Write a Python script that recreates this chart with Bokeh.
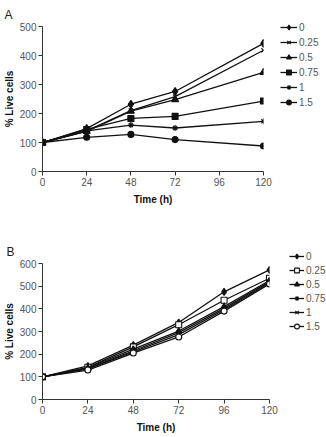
from bokeh.plotting import figure
from bokeh.layouts import column
from bokeh.models import Legend, LegendItem, FixedTicker
from bokeh.embed import file_html
from bokeh.resources import INLINE

# Time points (h)
time_a = [0, 24, 48, 72, 120]
time_b = [0, 24, 48, 72, 96, 120]

# Panel A: % live cells per concentration
conc_labels = ["0", "0.25", "0.5", "0.75", "1", "1.5"]
a_0 = [100, 148, 232, 276, 442]
a_025 = [100, 140, 210, 258, 418]
a_05 = [100, 138, 208, 248, 342]
a_075 = [100, 145, 183, 190, 243]
a_1 = [100, 140, 160, 150, 173]
a_15 = [100, 118, 128, 110, 88]

# Panel B: % live cells per concentration
b_0 = [100, 148, 240, 340, 475, 572]
b_025 = [100, 142, 232, 330, 438, 535]
b_05 = [100, 140, 222, 302, 410, 525]
b_075 = [100, 136, 215, 295, 402, 520]
b_1 = [100, 135, 210, 286, 396, 515]
b_15 = [100, 130, 205, 276, 390, 510]

x_ticks = [0, 24, 48, 72, 96, 120]
a_y_ticks = [0, 100, 200, 300, 400, 500]
b_y_ticks = [0, 100, 200, 300, 400, 500, 600]

FONT = "Liberation Sans"
TICK_COLOR = "#555555"


def style_axes(p, yticks):
    p.xaxis.ticker = FixedTicker(ticks=x_ticks)
    p.yaxis.ticker = FixedTicker(ticks=yticks)
    for ax in (p.xaxis[0], p.yaxis[0]):
        ax.axis_line_color = "#333333"
        ax.axis_line_width = 1
        ax.major_tick_line_color = "#333333"
        ax.major_tick_out = 4
        ax.major_tick_in = 0
        ax.minor_tick_line_color = None
        ax.major_label_text_font = FONT
        ax.major_label_text_font_size = "10px"
        ax.major_label_text_color = TICK_COLOR
        ax.major_label_standoff = 2
        ax.axis_label_text_font = FONT
        ax.axis_label_text_font_size = "10px"
        ax.axis_label_text_font_style = "bold"
        ax.axis_label_text_color = "#111111"
    p.yaxis.axis_label_standoff = 2
    p.xaxis.axis_label_standoff = 5
    p.xgrid.grid_line_color = None
    p.ygrid.grid_line_color = None
    p.outline_line_color = None


def make_panel(letter, times, series, markers, ymax, yticks, fw, fh,
               left, right, top, bottom, legend_xy, legend_gap, glyph_w,
               letter_offset):
    p = figure(
        width=left + fw + right, height=top + fh + bottom,
        frame_width=fw, frame_height=fh,
        min_border_left=left, min_border_right=right,
        min_border_top=top, min_border_bottom=bottom,
        x_range=(0, 120), y_range=(0, ymax),
        output_backend="svg", toolbar_location=None,
        x_axis_label="Time (h)", y_axis_label="% Live cells",
        title=letter,
    )
    p.title.align = "left"
    p.title.offset = letter_offset
    p.title.standoff = 9
    p.title.text_font = FONT
    p.title.text_font_size = "12px"
    p.title.text_font_style = "normal"
    p.title.text_color = "#222222"
    style_axes(p, yticks)
    items = []
    for label, ys, (mk, fill, size) in zip(conc_labels, series, markers):
        ln = p.line(times, ys, line_color="#111111", line_width=1.3)
        sc = p.scatter(times, ys, marker=mk, size=size, line_color="#111111",
                       fill_color=fill, line_width=1.1)
        items.append(LegendItem(label=label, renderers=[ln, sc]))
    legend = Legend(items=items, location=legend_xy)
    legend.border_line_color = None
    legend.background_fill_alpha = 0
    legend.padding = 0
    legend.margin = 0
    legend.spacing = legend_gap
    legend.glyph_width = glyph_w
    legend.glyph_height = 12
    legend.label_height = 12
    legend.label_standoff = 2
    legend.label_text_font = FONT
    legend.label_text_font_size = "10px"
    legend.label_text_color = TICK_COLOR
    p.add_layout(legend, "right")
    return p


markers_a = [
    ("diamond", "#111111", 8),
    ("x", "#111111", 6),
    ("triangle", "#111111", 7),
    ("square", "#111111", 6),
    ("asterisk", "#111111", 6),
    ("circle", "#111111", 6),
]
markers_b = [
    ("diamond", "#111111", 7),
    ("square", "white", 6),
    ("triangle", "#111111", 6),
    ("asterisk", "#111111", 6),
    ("x", "#111111", 5),
    ("circle", "white", 6),
]

pa = make_panel("A", time_a, [a_0, a_025, a_05, a_075, a_1, a_15], markers_a,
                500, a_y_ticks, 221, 145, 41, 64, 26, 47,
                (17, 63), 3, 17, -38)
pb = make_panel("B", time_b, [b_0, b_025, b_05, b_075, b_1, b_15], markers_b,
                600, b_y_ticks, 227, 136, 39, 60, 45, 38,
                (20, 67), 2, 15, -36)

layout = column(pa, pb, spacing=0)
open("out.html", "w").write(file_html(layout, INLINE))
